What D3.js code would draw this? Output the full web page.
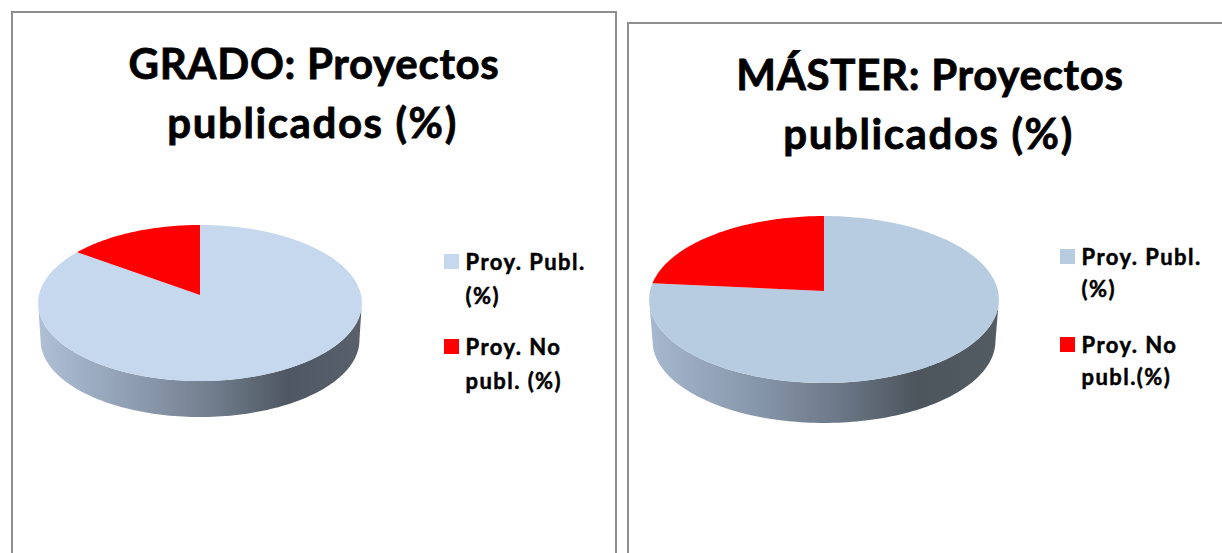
<!DOCTYPE html>
<html>
<head>
<meta charset="utf-8">
<script src="https://cdn.jsdelivr.net/npm/d3@7"></script>
<style>
  html, body { margin: 0; padding: 0; background: #fff; overflow: hidden; }
  text { font-family: Lato, sans-serif; font-weight: 700; fill: #000; stroke: #000; }
</style>
</head>
<body>
<svg id="chart" width="1222" height="553"></svg>
<script>
const categoriesGrado = ["Proy. Publ. (%)", "Proy. No publ. (%)"];
const valuesGrado = [85, 15];
const categoriesMaster = ["Proy. Publ. (%)", "Proy. No publ.(%)"];
const valuesMaster = [76.5, 23.5];
const titleGrado = ["GRADO: Proyectos", "publicados (%)"];
const titleMaster = ["MÁSTER: Proyectos", "publicados (%)"];
const legendLinesGrado = [["Proy. Publ.", "(%)"], ["Proy. No", "publ. (%)"]];
const legendLinesMaster = [["Proy. Publ.", "(%)"], ["Proy. No", "publ.(%)"]];

const svg = d3.select("#chart");
const defs = svg.append("defs");

function drawPanel(cfg) {
  const g = svg.append("g");

  // frame, open at the bottom like the cropped original
  g.append("path")
    .attr("d", `M${cfg.frame.x0},553V${cfg.frame.y}H${cfg.frame.x1}V553`)
    .attr("fill", "none")
    .attr("stroke", "#8e8e8e")
    .attr("stroke-width", 2);

  const titleSel = g.append("text")
    .attr("text-anchor", "middle")
    .style("font-size", cfg.titleSize + "px")
    .style("stroke-width", 0.8);
  cfg.title.forEach((t, i) => {
    titleSel.append("tspan")
      .attr("x", cfg.titleX - i * 1.5)
      .attr("y", cfg.titleY + i * cfg.titleStep)
      .style("letter-spacing", i ? "1.6px" : "0.7px")
      .text(t);
  });

  // perspective map of the unit circle, near edge comes out bigger
  const p = cfg.pie;
  const project = (a, scale = 1, drop = 0) => {
    const u = Math.sin(a), v = -Math.cos(a);
    const w = 1 - p.k * v;
    return [p.cx + p.r * scale * u / w, p.cy + drop + p.b * scale * v / w];
  };
  const outline = d3.line();

  const grad = defs.append("linearGradient")
    .attr("id", "side" + cfg.id)
    .attr("gradientUnits", "userSpaceOnUse")
    .attr("x1", p.cx - p.r).attr("x2", p.cx + p.r)
    .attr("y1", 0).attr("y2", 0);
  cfg.sideStops.forEach(s => {
    grad.append("stop").attr("offset", s[0]).attr("stop-color", s[1]);
  });

  // side wall: rim between the two widest points, round the front
  const widest = Math.asin(p.k);
  const frontAngles = d3.range(0, 121).map(i => (3 * Math.PI / 2 - widest) - i / 120 * (Math.PI - 2 * widest));
  const wall = frontAngles.map(a => project(a))
    .concat(frontAngles.slice().reverse().map(a => project(a, p.bottomScale, p.depth)));
  g.append("path")
    .attr("d", outline(wall) + "Z")
    .attr("fill", `url(#side${cfg.id})`);

  // slices clockwise from twelve o'clock
  const color = d3.scaleOrdinal().domain(cfg.categories).range(cfg.colors);
  const slices = d3.pie().sort(null)(cfg.values);
  slices.forEach((s, i) => {
    const n = Math.ceil((s.endAngle - s.startAngle) / 0.02);
    const rim = d3.range(n + 1).map(j => project(s.startAngle + (s.endAngle - s.startAngle) * j / n));
    g.append("path")
      .attr("d", outline([[p.cx, p.cy]].concat(rim)) + "Z")
      .attr("fill", color(cfg.categories[i]));
  });

  // legend
  cfg.categories.forEach((c, i) => {
    const l = cfg.legend;
    const y = l.y + i * l.step;
    g.append("rect")
      .attr("x", l.x).attr("y", y - 15)
      .attr("width", 15).attr("height", 15)
      .attr("fill", color(c));
    const txt = g.append("text")
      .style("font-size", l.size + "px")
      .style("letter-spacing", "1.45px")
      .style("stroke-width", 0.5);
    cfg.legendLines[i].forEach((t, j) => {
      txt.append("tspan")
        .attr("x", l.x + 21.5)
        .attr("y", y + 1 + j * l.lineStep)
        .text(t);
    });
  });
}

drawPanel({
  id: "grado",
  frame: { x0: 12, x1: 616, y: 12 },
  title: titleGrado, titleX: 314, titleY: 79, titleStep: 59, titleSize: 42,
  categories: categoriesGrado, values: valuesGrado,
  colors: ["#c5d8ee", "#ff0000"],
  pie: { cx: 200, cy: 295, r: 161, b: 77.2, k: 0.1026, depth: 37.3, bottomScale: 0.985 },
  sideStops: [[0, "#aebfd6"], [0.3, "#8d9cb0"], [0.55, "#6f7c8b"], [0.77, "#4f5762"], [1, "#58616b"]],
  legend: { x: 444, y: 269, step: 85, size: 22, lineStep: 34 },
  legendLines: legendLinesGrado
});

drawPanel({
  id: "master",
  frame: { x0: 628, x1: 1240, y: 23 },
  title: titleMaster, titleX: 930, titleY: 90, titleStep: 59, titleSize: 42,
  categories: categoriesMaster, values: valuesMaster,
  colors: ["#b8cce1", "#ff0000"],
  pie: { cx: 824, cy: 291, r: 174, b: 82.6, k: 0.1018, depth: 41.8, bottomScale: 0.98 },
  sideStops: [[0, "#a6b8cf"], [0.3, "#8797ab"], [0.55, "#6b7786"], [0.77, "#4c545c"], [1, "#535c63"]],
  legend: { x: 1060, y: 264, step: 88, size: 22, lineStep: 32 },
  legendLines: legendLinesMaster
});
</script>
</body>
</html>
